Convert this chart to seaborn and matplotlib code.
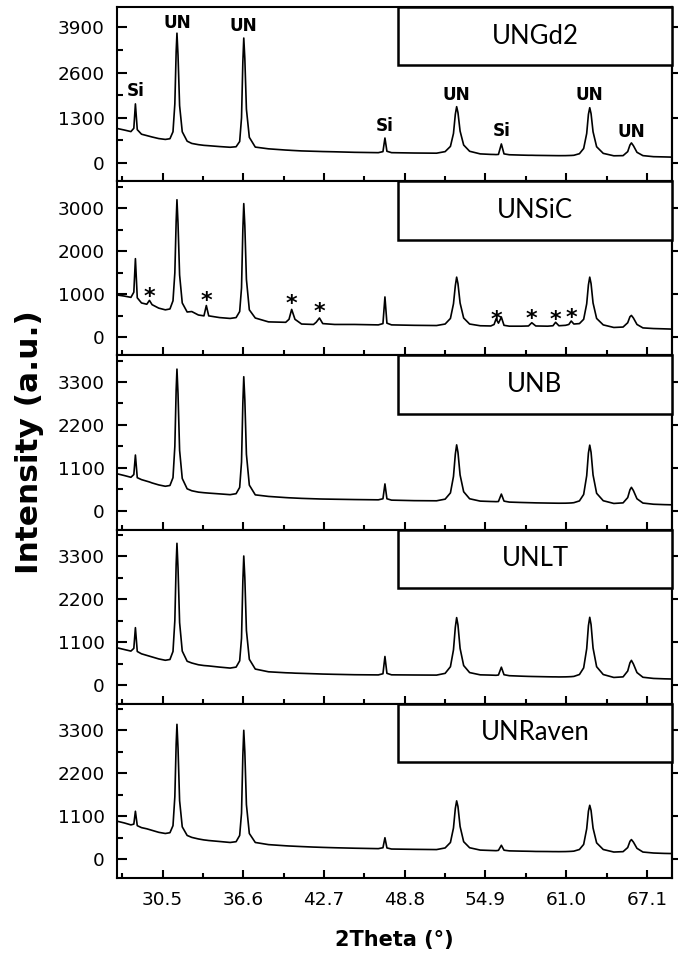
import numpy as np
import pandas as pd
import matplotlib
matplotlib.use("Agg")
import matplotlib.pyplot as plt
import seaborn as sns
from matplotlib.patches import Rectangle
from matplotlib.ticker import MultipleLocator, FormatStrFormatter

# shared 2theta grid (deg), 10 values per row
two_theta = [
    27.05, 27.6, 28.1, 28.32, 28.44, 28.58, 28.9, 29.3, 29.5, 29.7,
    30.2, 30.7, 31.05, 31.28, 31.42, 31.52, 31.58, 31.66, 31.78, 31.98,
    32.35, 32.7, 33.2, 33.62, 33.8, 33.98, 34.8, 35.6, 36.05, 36.32,
    36.46, 36.56, 36.63, 36.71, 36.83, 37.05, 37.5, 38.5, 39.8, 40.05,
    40.25, 40.5, 41.0, 41.9, 42.1, 42.35, 42.6, 43.5, 45.0, 46.8,
    47.15, 47.3, 47.45, 47.8, 49.5, 51.2, 51.85, 52.25, 52.48, 52.62,
    52.72, 52.82, 52.98, 53.25, 53.7, 54.5, 55.3, 55.55, 55.7, 55.88,
    56.1, 56.3, 56.7, 57.6, 58.15, 58.4, 58.7, 59.6, 60.0, 60.2,
    60.45, 60.95, 61.2, 61.38, 61.58, 62.0, 62.32, 62.55, 62.68, 62.78,
    62.88, 63.03, 63.3, 63.8, 64.6, 65.3, 65.65, 65.82, 65.93, 66.08,
    66.35, 66.8, 67.6, 68.4, 69.0,
]

ungd2 = [
    995, 950, 905, 1000, 1700, 960, 830, 790, 770, 750,
    705, 680, 700, 900, 1700, 3200, 3730, 3100, 1650, 900,
    630, 565, 530, 510, 505, 500, 475, 455, 470, 620,
    1300, 2900, 3590, 3000, 1550, 740, 460, 410, 375, 370,
    365, 360, 350, 340, 338, 335, 332, 325, 310, 300,
    330, 720, 340, 300, 290, 285, 330, 480, 850, 1400,
    1620, 1450, 920, 520, 340, 265, 250, 248, 245, 250,
    550, 265, 240, 230, 225, 225, 222, 218, 216, 215,
    214, 215, 218, 220, 225, 270, 420, 850, 1400, 1590,
    1420, 900, 470, 280, 210, 215, 330, 520, 580, 500,
    310, 215, 185, 178, 172,
]

unsic = [
    985, 960, 930, 1050, 1830, 920, 800, 770, 860, 760,
    680, 640, 660, 850, 1500, 2700, 3200, 2650, 1450, 800,
    590, 600, 520, 500, 740, 500, 460, 440, 460, 600,
    1150, 2500, 3110, 2600, 1350, 640, 450, 360, 350, 420,
    650, 420, 310, 300, 350, 450, 320, 300, 300, 290,
    320, 940, 330, 290, 280, 275, 310, 440, 780, 1200,
    1400, 1250, 800, 450, 310, 270, 265, 300, 430, 330,
    470, 280, 260, 260, 265, 340, 265, 260, 270, 350,
    270, 280, 300, 380, 310, 320, 420, 780, 1220, 1400,
    1250, 800, 440, 290, 230, 240, 340, 480, 510, 450,
    300, 220, 205, 198, 192,
]

unb = [
    950, 905, 860, 930, 1430, 850, 800, 760, 740, 715,
    665, 630, 650, 850, 1650, 3100, 3630, 3000, 1550, 830,
    565, 515, 480, 465, 460, 455, 435, 415, 440, 600,
    1250, 2750, 3435, 2850, 1450, 660, 410, 370, 340, 335,
    332, 328, 320, 310, 308, 305, 303, 298, 290, 283,
    310, 690, 310, 275, 262, 258, 300, 460, 880, 1450,
    1690, 1500, 920, 490, 310, 250, 240, 238, 236, 240,
    430, 250, 225, 215, 210, 208, 205, 200, 198, 197,
    196, 197, 200, 203, 210, 255, 420, 900, 1480, 1683,
    1500, 920, 450, 260, 190, 205, 340, 540, 603, 520,
    310, 200, 170, 160, 155,
]

unlt = [
    955, 910, 870, 940, 1470, 860, 800, 760, 740, 720,
    670, 635, 655, 860, 1650, 3100, 3630, 3000, 1600, 870,
    610, 565, 520, 500, 495, 490, 460, 435, 460, 620,
    1200, 2650, 3305, 2750, 1400, 660, 410, 340, 315, 312,
    310, 305, 300, 290, 288, 285, 282, 275, 265, 260,
    290, 732, 300, 262, 258, 255, 300, 470, 900, 1480,
    1727, 1540, 940, 500, 320, 262, 255, 252, 250, 258,
    458, 265, 240, 228, 222, 220, 218, 212, 210, 210,
    208, 210, 213, 216, 222, 270, 440, 930, 1520, 1735,
    1550, 950, 470, 270, 195, 210, 360, 570, 632, 540,
    320, 200, 170, 160, 155,
]

unraven = [
    975, 930, 880, 900, 1229, 860, 810, 780, 760, 740,
    690, 660, 680, 860, 1600, 2950, 3455, 2850, 1500, 830,
    610, 560, 520, 495, 488, 480, 455, 430, 450, 610,
    1180, 2650, 3302, 2750, 1400, 660, 430, 375, 345, 340,
    337, 333, 325, 312, 310, 307, 304, 295, 283, 272,
    295, 551, 290, 262, 254, 248, 290, 430, 800, 1300,
    1495, 1350, 840, 450, 295, 235, 225, 222, 220, 228,
    358, 232, 215, 208, 205, 203, 200, 198, 196, 196,
    195, 197, 200, 203, 208, 250, 380, 780, 1230, 1382,
    1250, 800, 420, 250, 185, 195, 300, 460, 504, 440,
    280, 185, 160, 150, 146,
]

sample_names = ["UNGd2", "UNSiC", "UNB", "UNLT", "UNRaven"]
sample_series = [ungd2, unsic, unb, unlt, unraven]
y_steps = [1300, 1000, 1100, 1100, 1100]
y_limits = [(-520, 4480), (-420, 3630), (-480, 3980), (-480, 3980), (-480, 3980)]

# peak labels in the UNGd2 panel
peak_names = ["Si", "UN", "UN", "Si", "UN", "Si", "UN", "UN"]
peak_x = [28.44, 31.58, 36.63, 47.3, 52.72, 56.1, 62.78, 65.9]
peak_y = [2060, 4010, 3930, 1070, 1965, 925, 1965, 905]

# impurity markers in the UNSiC panel
star_x = [29.5, 33.8, 40.25, 42.35, 55.7, 58.4, 60.2, 61.38]
star_y = [950, 836, 773, 579, 408, 422, 408, 440]

rows = []
for name, vals in zip(sample_names, sample_series):
    rows.append(pd.DataFrame({"two_theta": two_theta, "intensity": vals, "sample": name}))
df = pd.concat(rows, ignore_index=True)

sns.set_style("ticks")
plt.rcParams["font.family"] = ["DejaVu Sans"]
plt.rcParams["axes.linewidth"] = 1.5
for key in ["text.color", "axes.labelcolor", "axes.edgecolor", "xtick.color", "ytick.color"]:
    plt.rcParams[key] = "black"

fig, axes = plt.subplots(5, 1, sharex=True, figsize=(6.78, 9.64), dpi=100)
fig.subplots_adjust(left=0.1726, right=0.9912, top=0.9927, bottom=0.0892, hspace=0)

for i, (ax, name) in enumerate(zip(axes, sample_names)):
    sub = df[df["sample"] == name]
    sns.lineplot(data=sub, x="two_theta", y="intensity", ax=ax, color="black",
                 linewidth=1.2, estimator=None, sort=False)
    ax.set_xlim(27.05, 69.0)
    ax.set_ylim(*y_limits[i])
    ax.set_xlabel("")
    ax.set_ylabel("")
    ax.yaxis.set_major_locator(MultipleLocator(y_steps[i]))
    ax.yaxis.set_minor_locator(MultipleLocator(y_steps[i] / 2))
    ax.xaxis.set_major_locator(MultipleLocator(6.1))
    ax.xaxis.set_minor_locator(MultipleLocator(3.05))
    ax.xaxis.set_major_formatter(FormatStrFormatter("%.1f"))
    ax.tick_params(axis="y", which="major", direction="in", length=7, width=1.5,
                   labelsize=13.3, pad=9, colors="black")
    ax.tick_params(axis="y", which="minor", direction="in", length=4, width=1.5,
                   colors="black")
    ax.tick_params(axis="x", which="major", direction="in", length=6, width=1.5,
                   labelsize=13.3, pad=9, top=False, colors="black")
    ax.tick_params(axis="x", which="minor", direction="in", length=3.5, width=1.5,
                   top=False, colors="black")
    if i < 4:
        ax.tick_params(axis="x", labelbottom=False)
    for sp in ax.spines.values():
        sp.set_visible(True)
        sp.set_linewidth(1.5)
        sp.set_color("black")

    sec = ax.secondary_yaxis("right")
    sec.yaxis.set_major_locator(MultipleLocator(y_steps[i]))
    sec.tick_params(axis="y", direction="out", length=4, width=1.5, labelright=False,
                    colors="black")
    sec.spines["right"].set_linewidth(1.5)
    sec.spines["right"].set_color("black")

    ax.add_patch(Rectangle((0.506, 0.665), 0.494, 0.335, transform=ax.transAxes,
                           facecolor="white", edgecolor="black", linewidth=1.8,
                           zorder=5, clip_on=False))
    ax.text(0.753, 0.8325, name, transform=ax.transAxes, ha="center", va="center",
            fontsize=18.5, family=["Lato", "DejaVu Sans"], zorder=6)

for lab, x, y in zip(peak_names, peak_x, peak_y):
    axes[0].text(x, y, lab, ha="center", va="center", fontsize=12.2, fontweight="bold")

for x, y in zip(star_x, star_y):
    axes[1].text(x, y, "*", ha="center", va="center", fontsize=16, fontweight="bold")

fig.text(0.044, 0.5415, "Intensity (a.u.)", rotation=90, ha="center", va="center",
         fontsize=22.5, fontweight="bold")
fig.text(0.582, 0.025, "2Theta (°)", ha="center", va="center",
         fontsize=15, fontweight="bold")

fig.savefig("out.png", dpi=100)
